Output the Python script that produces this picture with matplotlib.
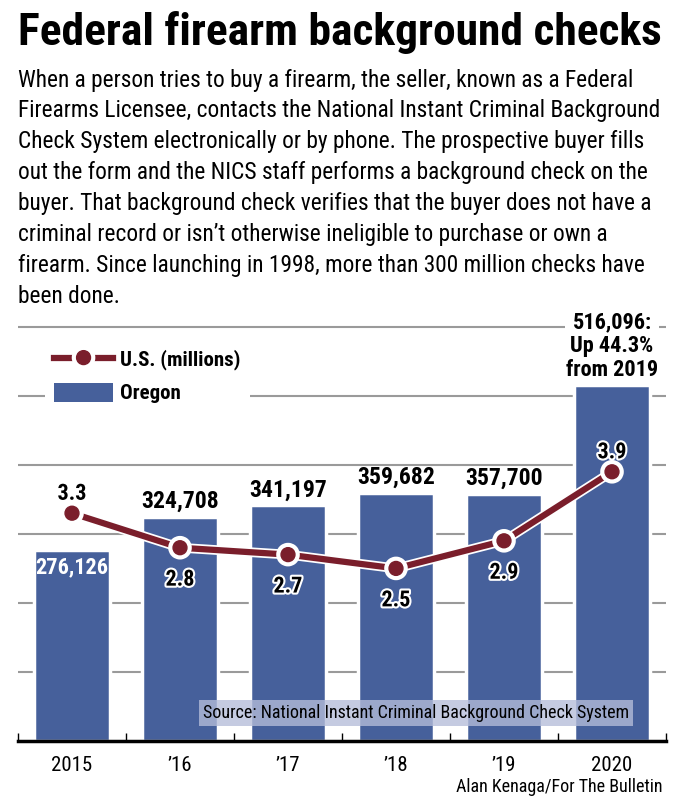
import matplotlib
matplotlib.use('Agg')
import matplotlib.pyplot as plt
import matplotlib.font_manager as fm
import matplotlib.patheffects as pe
from matplotlib.lines import Line2D
from matplotlib.patches import Patch

years = [2015, 2016, 2017, 2018, 2019, 2020]
oregon = [276126, 324708, 341197, 359682, 357700, 516096]
us_millions = [3.3, 2.8, 2.7, 2.5, 2.9, 3.9]
year_labels = ['2015', '\u201916', '\u201917', '\u201918', '\u201919', '2020']

title_text = 'Federal firearm background checks'
intro = [
    'When a person tries to buy a firearm, the seller, known as a Federal',
    'Firearms Licensee, contacts the National Instant Criminal Background',
    'Check System electronically or by phone. The prospective buyer fills',
    'out the form and the NICS staff performs a background check on the',
    'buyer. That background check verifies that the buyer does not have a',
    'criminal record or isn\u2019t otherwise ineligible to purchase or own a',
    'firearm. Since launching in 1998, more than 300 million checks have',
    'been done.',
]
source = 'Source: National Instant Criminal Background Check System'
credit = 'Alan Kenaga/For The Bulletin'

# pick a narrow font if there is one
names = {f.name for f in fm.fontManager.ttflist}
FONT = next(n for n in ['Liberation Sans Narrow', 'Roboto Condensed',
                        'Open Sans Condensed', 'DejaVu Sans'] if n in names or n == 'DejaVu Sans')
plt.rcParams['font.family'] = FONT
plt.rcParams['font.stretch'] = 'condensed'

BLUE = '#46609b'
RED = '#7a1e2b'
W, H = 677, 800

fig = plt.figure(figsize=(W / 100, H / 100), dpi=100)


def px(x, y):
    return x / W, 1 - y / H


def fit(txt, width):
    r = fig.canvas.get_renderer()
    return width / txt.get_window_extent(r).width


title = fig.text(*px(18, 33), title_text, fontsize=34, fontweight='bold', va='center')
title.set_fontsize(title.get_fontsize() * fit(title, 644))

body = [fig.text(*px(18, 80 + i * 30.9), line, fontsize=16, va='center')
        for i, line in enumerate(intro)]
s = fit(body[1], 644)
for t in body:
    t.set_fontsize(16 * s)

# chart
ax = fig.add_axes([18 / W, 59 / H, 648 / W, 428 / H])
x = list(range(len(years)))
ax.bar(x, oregon, width=0.7, color=BLUE, edgecolor='white', linewidth=2.5, zorder=2)
ax.set_xlim(-0.5, len(years) - 0.5)
ax.set_ylim(0, 620000)
ax.set_yticks(range(100000, 600001, 100000))
ax.yaxis.grid(True, color='#9a9a9a', lw=1.5)
ax.set_axisbelow(True)
ax.tick_params(axis='y', length=0, labelleft=False)
for side in ['left', 'right', 'top']:
    ax.spines[side].set_visible(False)
ax.spines['bottom'].set_linewidth(2.5)
ax.set_xticks(x)
ax.set_xticklabels(year_labels)
ax.set_xticks([i - 0.5 for i in range(len(years) + 1)], minor=True)
ax.tick_params(axis='x', which='major', length=0, pad=11, labelsize=15)
ax.tick_params(axis='x', which='minor', direction='in', length=6, width=1)

for i, v in enumerate(oregon):
    if i == 0:
        ax.annotate(f'{v:,}', (i, v), xytext=(0, -4), textcoords='offset points',
                    ha='center', va='top', fontsize=16, fontweight='bold', color='white')
    elif i == len(oregon) - 1:
        pct = (v / oregon[i - 1] - 1) * 100
        ax.annotate(f'{v:,}:\nUp {pct:.1f}%\nfrom {years[i - 1]}', (i, v), xytext=(0, 3),
                    textcoords='offset points', ha='center', va='bottom', fontsize=16,
                    fontweight='bold', linespacing=1.1,
                    bbox=dict(facecolor='white', edgecolor='none', pad=1))
    else:
        ax.annotate(f'{v:,}', (i, v), xytext=(0, 3), textcoords='offset points',
                    ha='center', va='bottom', fontsize=17, fontweight='bold')

ax2 = ax.twinx()
ax2.set_ylim(0, 6.2)
ax2.axis('off')
outline = [pe.Stroke(linewidth=7, foreground='white'), pe.Normal()]
ax2.plot(x, us_millions, color=RED, lw=4.5, marker='o', ms=10, mec=RED,
         path_effects=outline, zorder=3)
for i, v in enumerate(us_millions):
    above = i in (0, len(us_millions) - 1)
    ax2.annotate(f'{v:.1f}', (i, v), xytext=(0, 14 if above else -23),
                 textcoords='offset points', ha='center', va='center', fontsize=16,
                 fontweight='bold',
                 path_effects=[pe.withStroke(linewidth=3, foreground='white')])

handles = [Line2D([], [], color=RED, lw=4.5, marker='o', ms=10, path_effects=outline),
           Patch(facecolor=BLUE)]
fig.legend(handles, ['U.S. (millions)', 'Oregon'], loc='upper left',
           bbox_to_anchor=px(45, 340), frameon=True, facecolor='white', edgecolor='none',
           framealpha=1, fancybox=False, prop=dict(weight='bold', size=15),
           handlelength=2.8, handleheight=1.0, handletextpad=0.35, labelspacing=0.6,
           borderpad=0.45, borderaxespad=0)

fig.text(*px(416, 713), source, ha='center', va='center', fontsize=13,
         bbox=dict(facecolor=(0.71, 0.74, 0.85), alpha=0.78, edgecolor='none', pad=3))
fig.text(*px(662, 787), credit, ha='right', va='center', fontsize=13)

fig.savefig('out.png', dpi=100)
